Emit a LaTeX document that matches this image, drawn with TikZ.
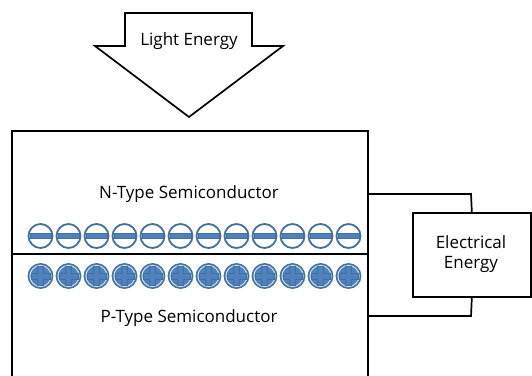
\documentclass[tikz,border=0pt]{standalone}
\usepackage{fontspec}
\setmainfont{Open Sans}
\definecolor{cdark}{HTML}{41719C}
\definecolor{cfill}{HTML}{4F81BD}
\begin{document}
\begin{tikzpicture}[x=1pt,y=-1pt,
  outl/.style={draw=black,line width=1.7pt,line join=miter},
  lbl/.style={font=\fontsize{17}{20}\selectfont,inner sep=0pt,align=center},
  minusc/.style={circle,minimum size=24pt,inner sep=0pt,draw=cdark,line width=1.8pt,fill=white},
  plusc/.style={circle,minimum size=24.5pt,inner sep=0pt,draw=cdark,line width=1.3pt,fill=cfill}]
\useasboundingbox (0,0) rectangle (532,375);
% arrow
\draw[outl,fill=white] (125,13) -- (252,13) -- (252,46) -- (283,46) -- (189,117) -- (95,46) -- (125,46) -- cycle;
\node[lbl] (light) at (189,41) {Light Energy};
% main box (open at bottom)
\draw[outl] (12,380) -- (12,131) -- (368,131) -- (368,380);
\coordinate (bl) at (12,254);
\coordinate (br) at (368,254);
\draw[outl] (bl) -- (br);
\node[lbl] (ntype) at (189,194) {N-Type Semiconductor};
\node[lbl] (ptype) at (189,318) {P-Type Semiconductor};
% charges
\foreach \i in {0,...,11}{
  \pgfmathsetmacro{\cx}{40.5+28*\i}
  \node[minusc] (m\i) at (\cx,236) {};
  \fill[cfill,draw=cdark,line width=0.9pt] (\cx-10.5,233.2) rectangle (\cx+10.5,238.8);
  \node[plusc] (p\i) at (\cx,276) {};
  \draw[white!80!cfill,line width=0.9pt] (p\i) circle (10.6pt);
  \filldraw[fill=cfill,draw=cdark,line width=0.9pt]
    (\cx-3,266.5) -- (\cx+3,266.5) -- (\cx+3,273) -- (\cx+9.5,273) -- (\cx+9.5,279) -- (\cx+3,279)
    -- (\cx+3,285.5) -- (\cx-3,285.5) -- (\cx-3,279) -- (\cx-9.5,279) -- (\cx-9.5,273) -- (\cx-3,273) -- cycle;
}
% electrical energy box
\node[outl,fill=white,minimum width=118pt,minimum height=84pt,inner sep=0pt,anchor=north west] (elec) at (412,212) {};
\node[lbl] (etext) at (471,254) {Electrical\\Energy};
\coordinate (t1) at (368,194);
\coordinate (t2) at (471,194);
\coordinate (b1) at (368,316);
\coordinate (b2) at (471,316);
\draw[outl] (t1) -- (t2) -- (elec.north);
\draw[outl] (b1) -- (b2) -- (elec.south);
\end{tikzpicture}
\end{document}
